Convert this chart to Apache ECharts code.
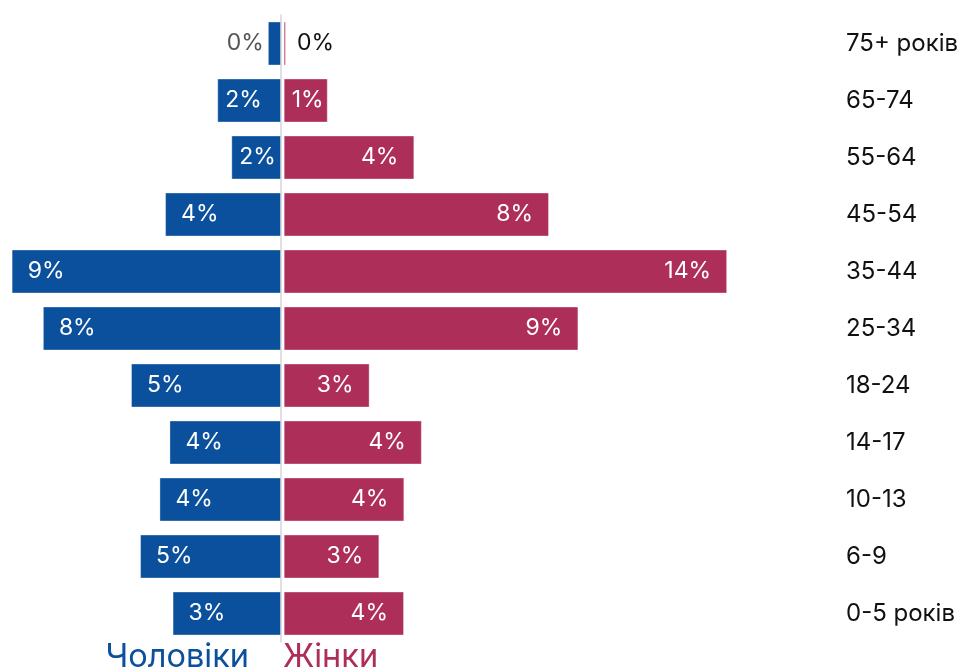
<!DOCTYPE html>
<html>
<head>
<meta charset="utf-8">
<script src="https://cdn.jsdelivr.net/npm/echarts@6/dist/echarts.min.js"></script>
<style>
html,body{margin:0;padding:0;background:#fff;}
#chart{width:964px;height:672px;}
</style>
</head>
<body>
<div id="chart"></div>
<script>
// Data (top to bottom)
const categories = ['75+ років', '65-74', '55-64', '45-54', '35-44', '25-34', '18-24', '14-17', '10-13', '6-9', '0-5 років'];
const men   = [0.42, 2.04, 1.59, 3.71, 8.62, 7.62, 4.80, 3.57, 3.89, 4.51, 3.47];
const women = [0.07, 1.41, 4.18, 8.49, 14.19, 9.43, 2.75, 4.42, 3.86, 3.06, 3.85];
const menLabel = 'Чоловіки';
const womenLabel = 'Жінки';

const BLUE = '#0b509c';
const RED = '#ae2e5a';
const FONT = 'Inter';

const PX_PER_UNIT = 31.25;
const ZERO_L = 281;      // men zero line
const ZERO_R = 283.7;    // women zero line
const MEN_MAX = ZERO_L / PX_PER_UNIT;
const WOMEN_MAX = 15;
const RIGHT_W = WOMEN_MAX * PX_PER_UNIT;
const TOP = 15, PLOT_H = 627;

function fmt(v) { return Math.round(v) + '%'; }

function menItems() {
  return men.map(v => {
    let label;
    if (Math.round(v) === 0) {
      label = { position: 'left', distance: 4, color: '#555555' };
    } else if (v * PX_PER_UNIT > 75) {
      label = { position: 'insideLeft', distance: 16, color: '#ffffff' };
    } else {
      label = { position: 'insideLeft', distance: 8, color: '#ffffff' };
    }
    return { value: v, label: label };
  });
}
function womenItems() {
  return women.map(v => {
    let label;
    if (Math.round(v) === 0) {
      label = { position: 'right', distance: 11, color: '#111111' };
    } else if (v * PX_PER_UNIT > 75) {
      label = { position: 'insideRight', distance: 16, color: '#ffffff' };
    } else {
      label = { position: 'insideLeft', distance: 8, color: '#ffffff' };
    }
    return { value: v, label: label };
  });
}

const chart = echarts.init(document.getElementById('chart'), null, { renderer: 'canvas' });
const labelBase = { show: true, fontFamily: FONT, fontSize: 23, formatter: p => fmt(p.value) };

chart.setOption({
  animation: false,
  backgroundColor: '#ffffff',
  grid: [
    { left: 0, width: ZERO_L, top: TOP, height: PLOT_H, containLabel: false },
    { left: ZERO_R, width: RIGHT_W, top: TOP, height: PLOT_H, containLabel: false }
  ],
  xAxis: [
    { gridIndex: 0, type: 'value', inverse: true, min: 0, max: MEN_MAX, show: false },
    { gridIndex: 1, type: 'value', min: 0, max: WOMEN_MAX, show: false }
  ],
  yAxis: [
    { gridIndex: 0, type: 'category', data: categories, inverse: true, position: 'right', offset: 1.5,
      axisLine: { show: true, lineStyle: { color: '#d6d6d6', width: 1.5 } },
      axisTick: { show: false }, axisLabel: { show: false }, splitLine: { show: false } },
    { gridIndex: 1, type: 'category', data: categories, inverse: true, position: 'right',
      axisLine: { show: false }, axisTick: { show: false }, splitLine: { show: false },
      axisLabel: { show: true, align: 'left', margin: 846 - (ZERO_R + RIGHT_W), color: '#111111', fontFamily: FONT, fontSize: 24 } }
  ],
  series: [
    { name: menLabel, type: 'bar', xAxisIndex: 0, yAxisIndex: 0, data: menItems(), barWidth: 44,
      itemStyle: { color: BLUE, borderColor: 'rgba(255,255,255,0.35)', borderWidth: 1 },
      label: Object.assign({}, labelBase) },
    { name: womenLabel, type: 'bar', xAxisIndex: 1, yAxisIndex: 1, data: womenItems(), barWidth: 44,
      itemStyle: { color: RED, borderColor: 'rgba(255,255,255,0.35)', borderWidth: 1 },
      label: Object.assign({}, labelBase) }
  ],
  graphic: [
    { type: 'text', right: 964 - 249, top: 641,
      style: { text: menLabel, fill: BLUE, font: '32.5px Inter', textAlign: 'right' } },
    { type: 'text', left: 283, top: 641,
      style: { text: womenLabel, fill: RED, font: '32.5px Inter' } }
  ]
});
</script>
</body>
</html>
